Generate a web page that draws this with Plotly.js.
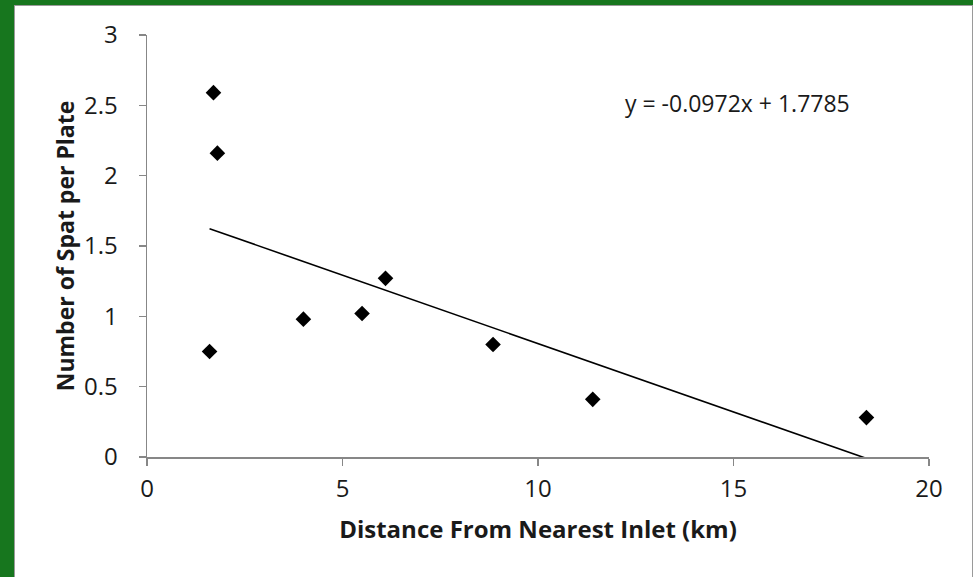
<!DOCTYPE html>
<html>
<head>
<meta charset="utf-8">
<script src="https://cdn.plot.ly/plotly-3.0.1.min.js"></script>
<style>
  html, body { margin: 0; padding: 0; width: 973px; height: 577px; overflow: hidden; background: #17761e; }
  #chart { position: absolute; left: 15px; top: 6px; width: 957px; height: 571px; outline: 1px solid #9a9a9a; background: #fff; }
</style>
</head>
<body>
<div id="chart"></div>
<script>
// Data
const distanceKm = [1.7, 1.8, 1.6, 4.0, 5.5, 6.1, 8.85, 11.4, 18.4];
const spatPerPlate = [2.59, 2.16, 0.75, 0.98, 1.02, 1.27, 0.80, 0.41, 0.28];
const trendSlope = -0.0972;
const trendIntercept = 1.7785;
const xTickVals = [0, 5, 10, 15, 20];
const yTickVals = [0, 0.5, 1, 1.5, 2, 2.5, 3];
const yTickText = ['0', '0.5', '1', '1.5', '2', '2.5', '3'];
const equationText = 'y = -0.0972x + 1.7785';

const xMin = Math.min(...distanceKm);
const xMax = Math.max(...distanceKm);
const trendX = [xMin, xMax];
const trendY = trendX.map(x => trendSlope * x + trendIntercept);

const FONT = '"Open Sans", "Liberation Sans", sans-serif';
const AXIS_COLOR = '#878787';
const TEXT_COLOR = '#1a1a1a';

const traces = [
  {
    x: trendX, y: trendY, type: 'scatter', mode: 'lines',
    line: { color: '#000', width: 1.6 }, hoverinfo: 'skip', showlegend: false,
    cliponaxis: true
  },
  {
    x: distanceKm, y: spatPerPlate, type: 'scatter', mode: 'markers',
    marker: { symbol: 'diamond', size: 12, color: '#000' }, showlegend: false
  }
];

const layout = {
  width: 957, height: 571,
  margin: { l: 132, r: 43, t: 29, b: 120 },
  paper_bgcolor: '#ffffff', plot_bgcolor: '#ffffff',
  font: { family: FONT, size: 24, color: TEXT_COLOR },
  showlegend: false,
  xaxis: {
    range: [0, 20], tickvals: xTickVals, ticktext: xTickVals.map(String),
    showline: true, linecolor: AXIS_COLOR, linewidth: 1.5,
    ticks: 'outside', ticklen: 7, tickwidth: 1.5, tickcolor: AXIS_COLOR,
    showgrid: false, zeroline: false, ticklabelstandoff: 3,
    tickfont: { family: FONT, size: 24, color: TEXT_COLOR },
    title: { text: 'Distance From Nearest Inlet (km)', font: { family: FONT, size: 24, color: TEXT_COLOR, weight: 'bold' }, standoff: 18 }
  },
  yaxis: {
    range: [0, 3], tickvals: yTickVals, ticktext: yTickText,
    showline: true, linecolor: AXIS_COLOR, linewidth: 1.5,
    ticks: 'outside', ticklen: 7, tickwidth: 1.5, tickcolor: AXIS_COLOR,
    showgrid: false, zeroline: false, ticklabelstandoff: 16,
    tickfont: { family: FONT, size: 24, color: TEXT_COLOR },
    title: { text: 'Number of Spat per Plate', font: { family: FONT, size: 23, color: TEXT_COLOR, weight: 'bold' }, standoff: 3 }
  },
  annotations: [{
    x: 15.1, y: 2.52, xref: 'x', yref: 'y', text: equationText, showarrow: false,
    font: { family: FONT, size: 23, color: TEXT_COLOR }, xanchor: 'center', yanchor: 'middle'
  }]
};

Plotly.newPlot('chart', traces, layout, { displayModeBar: false, staticPlot: true });
</script>
</body>
</html>
